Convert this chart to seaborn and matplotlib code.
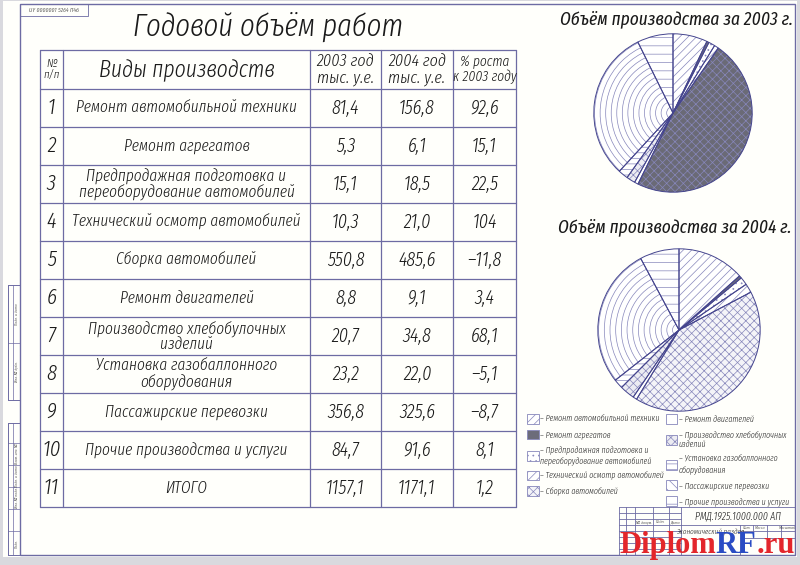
import numpy as np
import matplotlib
matplotlib.use('Agg')
import matplotlib.pyplot as plt
from matplotlib.patches import Rectangle, Patch, Circle
from matplotlib.font_manager import FontProperties
import seaborn as sns

# ---- data -------------------------------------------------------------
categories = [
    'Ремонт автомобильной техники',
    'Ремонт агрегатов',
    'Предпродажная подготовка и\nпереоборудование автомобилей',
    'Технический осмотр автомобилей',
    'Сборка автомобилей',
    'Ремонт двигателей',
    'Производство хлебобулочных\nизделий',
    'Установка газобаллонного\nоборудования',
    'Пассажирские перевозки',
    'Прочие производства и услуги',
]
vals_2003 = [81.4, 5.3, 15.1, 10.3, 550.8, 8.8, 20.7, 23.2, 356.8, 84.7]
vals_2004 = [156.8, 6.1, 18.5, 21.0, 485.6, 9.1, 34.8, 22.0, 325.6, 91.6]
growth = [92.6, 15.1, 22.5, 104, -11.8, 3.4, 68.1, -5.1, -8.7, 8.1]
growth_total = 1.2

hatches = ['////', '', '...', '////', 'xxxx', '', 'xxxx', '---', '', '--']
face_2004 = ['white', '#6c6c7a', 'white', 'white', '#f4f4f8', 'white',
             '#ececf2', 'white', 'white', 'white']
face_2003 = list(face_2004)
face_2003[4] = '#6a6a76'

sns.set_theme(style='white')
FONT = ['Fira Sans Extra Condensed', 'Liberation Sans', 'DejaVu Sans']
plt.rcParams['font.family'] = FONT
plt.rcParams['font.style'] = 'italic'
plt.rcParams['hatch.linewidth'] = 0.5
TXT = dict(family=FONT, style='italic', weight=300, color='#1a1a1a')

LINE = '#6d6ba3'
HATCH = '#8787bb'
EDGE = '#45458e'

fig = plt.figure(figsize=(8, 5.65), dpi=100, facecolor='#d9d9de')
ax = fig.add_axes([0, 0, 1, 1])
ax.set_xlim(0, 800)
ax.set_ylim(565, 0)
ax.axis('off')

# sheet and frame
ax.add_patch(Rectangle((3, 1), 794, 556, fc='#fffffb', ec='none'))
ax.add_patch(Rectangle((20, 4), 775, 551, fc='none', ec=LINE, lw=1.0))
ax.add_patch(Rectangle((20, 4), 68, 12, fc='none', ec=LINE, lw=0.6))
ax.text(54, 10, 'UY 0000001 5264 П4б', fontsize=4.5, ha='center', va='center', **TXT)

# left binding strip
for y0, y1 in [(285, 400), (423, 555)]:
    ax.plot([8, 8], [y0, y1], color=LINE, lw=0.7)
    ax.plot([13, 13], [y0, y1], color=LINE, lw=0.5)
    ax.plot([8, 20], [y0, y0], color=LINE, lw=0.7)
    ax.plot([8, 20], [y1, y1], color=LINE, lw=0.7)
for y in [343, 443, 465, 487, 509, 531]:
    ax.plot([8, 20], [y, y], color=LINE, lw=0.5)
for y, s in [(314, 'Подп. и дата'), (372, 'Инв. № дубл.'), (454, 'Взам. инв. №'),
             (476, 'Подп. и дата'), (498, 'Инв. № подл.'), (543, 'Подп.')]:
    ax.text(16.5, y, s, fontsize=3, rotation=90, ha='center', va='center', **TXT)

# title
ax.text(268, 27, 'Годовой объём работ', fontsize=22.5, ha='center', va='center', **TXT)

# ---- table --------------------------------------------------------------
col_edges = [40, 63, 310, 381, 453, 516]
row_edges = [50] + [89 + 38 * i for i in range(12)]
for x in col_edges:
    ax.plot([x, x], [row_edges[0], row_edges[-1]], color=LINE, lw=0.9)
for y in row_edges:
    ax.plot([col_edges[0], col_edges[-1]], [y, y], color=LINE, lw=0.9)

cx = [(col_edges[i] + col_edges[i + 1]) / 2 for i in range(5)]
hy = (row_edges[0] + row_edges[1]) / 2
ax.text(cx[0], hy, '№\nп/п', fontsize=8.5, ha='center', va='center', linespacing=1.0, **TXT)
ax.text(cx[1], hy + 1, 'Виды производств', fontsize=17, ha='center', va='center', **TXT)
ax.text(cx[2], hy, '2003 год\nтыс. у.е.', fontsize=12.5, ha='center', va='center', linespacing=1.0, **TXT)
ax.text(cx[3], hy, '2004 год\nтыс. у.е.', fontsize=12.5, ha='center', va='center', linespacing=1.0, **TXT)
ax.text(cx[4], hy, '% роста\nк 2003 году', fontsize=10.5, ha='center', va='center', linespacing=1.05, **TXT)


def f1(v):
    return f'{v:.1f}'.replace('.', ',')


def fg(v):
    return f'{v:g}'.replace('.', ',').replace('-', '–')


rows = [(str(i + 1), categories[i], f1(vals_2003[i]), f1(vals_2004[i]), fg(growth[i]))
        for i in range(len(categories))]
rows.append((str(len(categories) + 1), 'ИТОГО', f1(sum(vals_2003)), f1(sum(vals_2004)),
             fg(growth_total)))
for i, r in enumerate(rows):
    y = row_edges[i + 1] + 19
    ax.text(cx[0], y, r[0], fontsize=16, ha='center', va='center', **TXT)
    ax.text(cx[1], y, r[1], fontsize=12, ha='center', va='center', linespacing=0.95, **TXT)
    for j in (2, 3, 4):
        ax.text(cx[j], y, r[j], fontsize=14, ha='center', va='center', **TXT)

# ---- pies --------------------------------------------------------------


def draw_pie(rect, values, faces):
    pax = fig.add_axes(rect)
    wedges, _ = pax.pie(values, startangle=90, counterclock=False, colors=faces,
                        wedgeprops=dict(edgecolor=HATCH, linewidth=0))
    for w, h in zip(wedges, hatches):
        w.set_hatch(h)
    # concentric arcs for passenger transport
    for r in np.arange(0.08, 1.0, 0.07):
        c = Circle((0, 0), r, fill=False, ec=HATCH, lw=0.5)
        pax.add_patch(c)
        c.set_clip_path(wedges[8])
    pax.pie(values, startangle=90, counterclock=False,
            wedgeprops=dict(fill=False, edgecolor=EDGE, linewidth=0.7))
    pax.set_xlim(-1.01, 1.01)
    pax.set_ylim(-1.01, 1.01)
    pax.set_aspect('equal')
    pax.axis('off')


def frect(x0, y0, x1, y1):
    return [x0 / 800, 1 - y1 / 565, (x1 - x0) / 800, (y1 - y0) / 565]


draw_pie(frect(593, 33, 753, 193), vals_2003, face_2003)
draw_pie(frect(597, 248, 761, 412), vals_2004, face_2004)
PT = dict(TXT, weight=400)
ax.text(676, 19, 'Объём производства за 2003 г.', fontsize=13.5, ha='center', va='center', **PT)
ax.text(675, 227, 'Объём производства за 2004 г.', fontsize=13.5, ha='center', va='center', **PT)

# legend
handles = []
for i in range(len(categories)):
    h = hatches[i] if i != 8 else '\\\\\\'
    handles.append(Patch(facecolor=face_2004[i], hatch=h, edgecolor=HATCH, lw=0.6))
labels = ['– ' + c for c in categories]
fig.legend(handles, labels, ncol=2, loc='upper left',
           bbox_to_anchor=(527 / 800, 1 - 414 / 565), frameon=False,
           prop=FontProperties(family=FONT, style='italic', weight=300, size=6.2),
           handlelength=1.35, handleheight=1.35, handletextpad=0.2,
           labelspacing=0.7, columnspacing=0.15, borderaxespad=0, borderpad=0)

# ---- title block -------------------------------------------------------
tb = dict(color=LINE, lw=0.6)
ax.plot([619, 619], [507, 555], **tb)
ax.plot([619, 795], [507, 507], **tb)
for x in [626, 635, 653, 669]:
    ax.plot([x, x], [507, 555], **tb)
ax.plot([681, 681], [507, 555], **tb)
for y in [513, 519, 525, 531, 537, 543, 549]:
    ax.plot([619, 681], [y, y], **tb)
ax.plot([681, 795], [525, 525], **tb)
ax.plot([740, 740], [525, 555], **tb)
ax.plot([740, 795], [531, 531], **tb)
ax.plot([740, 795], [538, 538], **tb)
for x in [753, 767, 781]:
    ax.plot([x, x], [525, 538], **tb)
ax.text(738, 516, 'РМД.1925.1000.000 АП', fontsize=7.5, ha='center', va='center', **TXT)
ax.text(710, 531, 'Экономический раздел', fontsize=5.5, ha='center', va='center', **TXT)
for x, s in [(746, 'Лит.'), (760, 'Масса'), (788, 'Масштаб')]:
    ax.text(x, 528, s, fontsize=3.2, ha='center', va='center', **TXT)
for x, s in [(644, '№ докум.'), (661, 'Подп.'), (675, 'Дата')]:
    ax.text(x, 522, s, fontsize=3.2, ha='center', va='center', **TXT)

# watermark
fig.canvas.draw()
rend = fig.canvas.get_renderer()
x = 619
for part, col in [('Diplom', '#e3262b'), ('RF', '#2a4cc4'), ('.ru', '#e3262b')]:
    t = ax.text(x, 553, part, fontsize=22, fontweight='bold', color=col,
                family=['Liberation Serif', 'DejaVu Serif'], style='normal',
                ha='left', va='baseline')
    bb = t.get_window_extent(renderer=rend)
    x = ax.transData.inverted().transform((bb.x1, 0))[0]

fig.savefig('out.png', dpi=100, facecolor=fig.get_facecolor())
